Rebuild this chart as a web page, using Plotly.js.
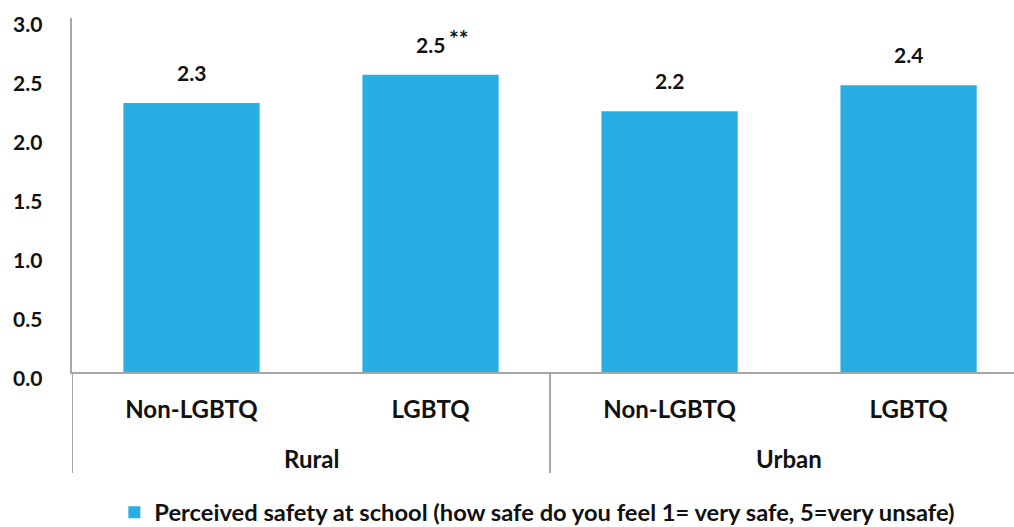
<!DOCTYPE html>
<html>
<head>
<meta charset="utf-8">
<script src="https://cdn.plot.ly/plotly-3.0.1.min.js"></script>
<style>html,body{margin:0;padding:0;background:#fff;overflow:hidden;}</style>
</head>
<body>
<div id="chart" style="width:1014px;height:527px;"></div>
<script>
const groups = ["Rural", "Rural", "Urban", "Urban"];
const categories = ["Non-LGBTQ", "LGBTQ", "Non-LGBTQ", "LGBTQ"];
const values = [2.28, 2.52, 2.21, 2.43];
const valueLabels = ["2.3", "2.5", "2.2", "2.4"];
const significance = ["", "**", "", ""];
const seriesName = "Perceived safety at school (how safe do you feel 1= very safe, 5=very unsafe)";
const yTicks = [0, 0.5, 1.0, 1.5, 2.0, 2.5, 3.0];
const yTickLabels = ["0.0", "0.5", "1.0", "1.5", "2.0", "2.5", "3.0"];

const FONT = "Lato, 'Open Sans', sans-serif";
const BLUE = "#29AEE4";
const GREY = "#A6A6A6";
const INK = "#111111";

const idx = categories.map((_, i) => i);
const annotations = [];
const shapes = [];

// value labels above bars
values.forEach((v, i) => {
  annotations.push({
    x: idx[i], y: v, xref: "x", yref: "y",
    text: "<b>" + valueLabels[i] + "</b>",
    showarrow: false, yanchor: "bottom", yshift: 16,
    font: {family: FONT, size: 21, color: INK}
  });
  if (significance[i]) {
    annotations.push({
      x: idx[i], y: v, xref: "x", yref: "y",
      text: "<b>" + significance[i] + "</b>",
      showarrow: false, yanchor: "bottom", xanchor: "left",
      xshift: 16, yshift: 21,
      font: {family: FONT, size: 23, color: INK}
    });
  }
});

// y tick labels (set slightly below their gridline, as in the original)
yTicks.forEach((t, i) => {
  annotations.push({
    x: 0, xref: "paper", y: t, yref: "y",
    text: "<b>" + yTickLabels[i] + "</b>",
    showarrow: false, xanchor: "right", yanchor: "middle",
    xshift: -28, yshift: -5,
    font: {family: FONT, size: 21, color: INK}
  });
});

// group labels and dividers
const uniqueGroups = [...new Set(groups)];
uniqueGroups.forEach(g => {
  const members = idx.filter(i => groups[i] === g);
  const mid = members.reduce((a, b) => a + b, 0) / members.length;
  annotations.push({
    x: mid, xref: "x", y: -0.243, yref: "paper",
    text: "<b>" + g + "</b>",
    showarrow: false, xanchor: "center", yanchor: "middle",
    font: {family: FONT, size: 24, color: INK}
  });
});
idx.forEach(i => {
  if (i === 0 || groups[i] !== groups[i - 1]) {
    shapes.push({
      type: "line", xref: "x", yref: "paper",
      x0: i - 0.5, x1: i - 0.5, y0: 0, y1: -0.285,
      line: {color: GREY, width: 2}
    });
  }
});

const trace = {
  type: "bar",
  x: idx,
  y: values,
  name: seriesName,
  marker: {color: BLUE},
  width: 0.57,
  showlegend: true,
  hoverinfo: "skip"
};

const layout = {
  width: 1014, height: 527,
  margin: {l: 72, r: 0, t: 18, b: 154.5, autoexpand: false},
  paper_bgcolor: "#fff", plot_bgcolor: "#fff",
  font: {family: FONT, size: 20, color: INK, weight: "bold"},
  showlegend: true,
  legend: {
    orientation: "h", x: 0.494, xanchor: "center", xref: "paper",
    y: -0.3963, yanchor: "middle",
    font: {family: FONT, size: 23.7, color: INK, weight: "bold"}
  },
  xaxis: {
    type: "linear",
    range: [-0.5, 3.441],
    tickvals: idx, ticktext: categories,
    showline: true, linecolor: GREY, linewidth: 2,
    showgrid: false, zeroline: false, ticks: "",
    ticklabelstandoff: 15,
    tickfont: {family: FONT, size: 24, color: INK, weight: "bold"}
  },
  yaxis: {
    range: [0, 3.0],
    tickvals: yTicks, showticklabels: false,
    showline: true, linecolor: GREY, linewidth: 2,
    showgrid: false, zeroline: false, ticks: ""
  },
  annotations: annotations,
  shapes: shapes
};

Plotly.newPlot("chart", [trace], layout, {displayModeBar: false, staticPlot: true});
</script>
</body>
</html>
